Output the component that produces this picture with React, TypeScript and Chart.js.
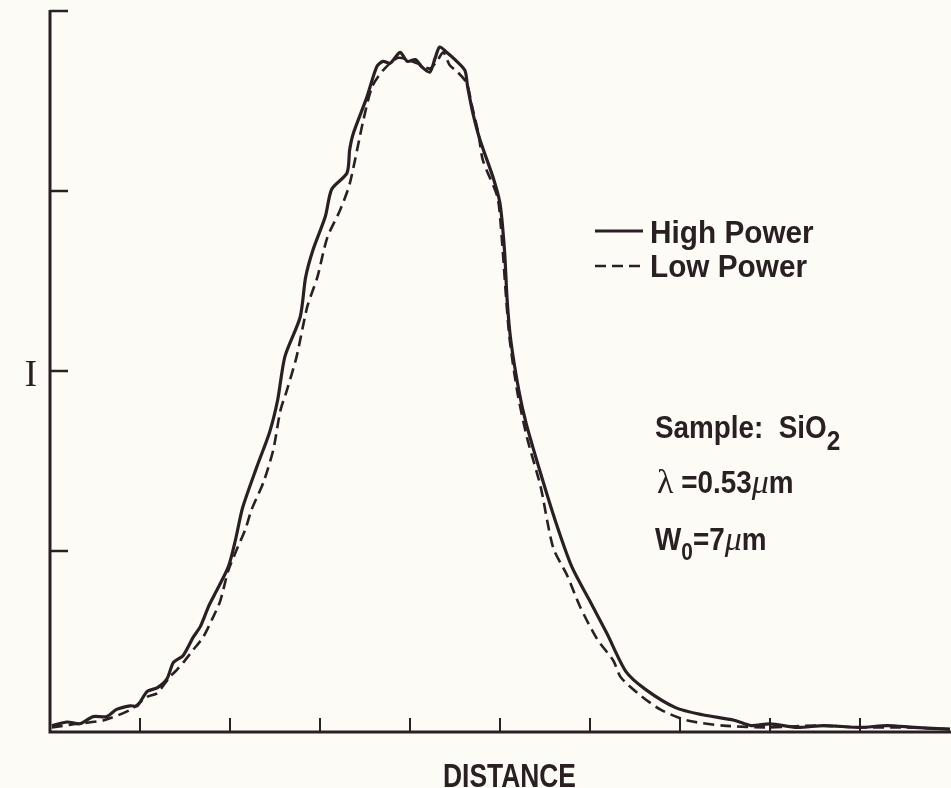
import React, { useEffect, useRef } from "react";
import { Chart, registerables } from "chart.js";

Chart.register(...registerables);

// ---- data ----
const xTicks = [1, 2, 3, 4, 5, 6, 7, 8, 9];
const yTicks = [1, 2, 3, 4];

const highX = [0.02,0.19,0.33,0.48,0.63,0.74,0.89,0.97,1.08,1.19,1.30,1.37,1.48,1.59,1.67,1.76,1.81,1.98,2.06,2.14,2.30,2.44,2.53,2.61,2.78,2.84,2.92,3.06,3.13,3.30,3.33,3.37,3.52,3.63,3.70,3.78,3.89,3.97,4.06,4.13,4.22,4.28,4.33,4.41,4.50,4.61,4.64,4.70,4.78,4.92,5.00,5.05,5.08,5.12,5.21,5.29,5.44,5.62,5.80,5.99,6.19,6.40,6.62,6.95,7.25,7.60,7.79,8.0,8.3,8.6,9.0,9.3,9.6,10.0];
const highY = [0.03,0.05,0.04,0.08,0.08,0.12,0.14,0.14,0.22,0.24,0.29,0.38,0.42,0.52,0.58,0.69,0.74,0.91,1.06,1.24,1.47,1.66,1.84,2.08,2.30,2.52,2.67,2.86,3.01,3.10,3.23,3.32,3.52,3.69,3.72,3.71,3.77,3.72,3.73,3.69,3.66,3.74,3.80,3.77,3.73,3.67,3.58,3.43,3.28,3.08,2.93,2.67,2.39,2.17,1.89,1.71,1.45,1.16,0.91,0.73,0.54,0.33,0.23,0.13,0.09,0.06,0.03,0.04,0.02,0.03,0.02,0.03,0.02,0.01];

const lowX = [0.02,0.3,0.6,0.9,1.08,1.19,1.33,1.41,1.48,1.59,1.70,1.81,1.89,1.98,2.06,2.17,2.24,2.37,2.48,2.56,2.63,2.74,2.86,2.97,3.08,3.22,3.33,3.48,3.58,3.70,3.87,4.08,4.22,4.31,4.37,4.44,4.53,4.63,4.69,4.76,4.81,4.97,5.01,5.10,5.19,5.30,5.45,5.59,5.75,5.89,6.08,6.26,6.34,6.53,6.78,7.07,7.48,8.0,8.5,9.0,9.5,10.0];
const lowY = [0.02,0.04,0.06,0.12,0.19,0.21,0.30,0.34,0.38,0.45,0.52,0.63,0.72,0.89,0.99,1.12,1.23,1.38,1.56,1.78,1.89,2.08,2.36,2.52,2.74,2.89,3.04,3.39,3.58,3.67,3.74,3.71,3.68,3.73,3.77,3.70,3.66,3.60,3.47,3.32,3.17,2.97,2.80,2.21,1.89,1.63,1.36,1.02,0.86,0.69,0.51,0.39,0.30,0.21,0.12,0.06,0.03,0.02,0.03,0.02,0.02,0.01];

const seriesNames = ["High Power", "Low Power"];
const xTitle = "DISTANCE";
const yTitle = "I";

const INK = "#2a2024";
const BG = "#fcfbf6";
const SANS = "'Liberation Sans', Arial, sans-serif";
const SERIF = "'Liberation Serif', 'Times New Roman', serif";

type Run = { text: string; font: string; dy?: number; sx?: number };

function drawRuns(ctx: CanvasRenderingContext2D, x: number, y: number, runs: Run[]) {
  let cx = x;
  for (const r of runs) {
    const sx = r.sx ?? 1;
    ctx.font = r.font;
    ctx.save();
    ctx.translate(cx, y + (r.dy || 0));
    ctx.scale(sx, 1);
    ctx.fillText(r.text, 0, 0);
    ctx.restore();
    cx += ctx.measureText(r.text).width * sx;
  }
}

const decorPlugin = {
  id: "decor",
  beforeDraw(chart: any) {
    const { ctx, width, height } = chart;
    ctx.save();
    ctx.fillStyle = BG;
    ctx.fillRect(0, 0, width, height);
    ctx.restore();
  },
  afterDatasetsDraw(chart: any) {
    const ctx: CanvasRenderingContext2D = chart.ctx;
    const xs = chart.scales.x;
    const ys = chart.scales.y;
    const x0 = xs.getPixelForValue(xs.min);
    const x1 = xs.getPixelForValue(xs.max);
    const y0 = ys.getPixelForValue(ys.min);
    const yTop = ys.getPixelForValue(ys.max);
    ctx.save();
    ctx.strokeStyle = INK;
    ctx.fillStyle = INK;
    ctx.lineCap = "butt";
    // axes
    ctx.lineWidth = 3;
    ctx.beginPath();
    ctx.moveTo(x0, yTop - 1);
    ctx.lineTo(x0, y0 + 1);
    ctx.lineTo(x1 + 1, y0 + 1);
    ctx.stroke();
    // y ticks (inward)
    ctx.lineWidth = 2.5;
    for (const v of yTicks) {
      const py = ys.getPixelForValue(v);
      ctx.beginPath();
      ctx.moveTo(x0, py);
      ctx.lineTo(x0 + 18, py);
      ctx.stroke();
    }
    // x ticks (inward)
    ctx.lineWidth = 2;
    for (const v of xTicks) {
      const px = xs.getPixelForValue(v);
      ctx.beginPath();
      ctx.moveTo(px, y0);
      ctx.lineTo(px, y0 - 13);
      ctx.stroke();
    }

    // axis titles
    ctx.textBaseline = "alphabetic";
    ctx.textAlign = "left";
    drawRuns(ctx, 443, 787, [{ text: xTitle, font: `bold 33px ${SANS}`, sx: 0.8 }]);
    ctx.textAlign = "center";
    ctx.font = `37px ${SERIF}`;
    ctx.fillText(yTitle, 31, 386);
    ctx.textAlign = "left";

    // legend
    ctx.lineWidth = 3;
    ctx.beginPath();
    ctx.moveTo(595, 231);
    ctx.lineTo(643, 231);
    ctx.stroke();
    ctx.lineWidth = 2.5;
    ctx.setLineDash([11, 6]);
    ctx.beginPath();
    ctx.moveTo(595, 266);
    ctx.lineTo(643, 266);
    ctx.stroke();
    ctx.setLineDash([]);
    drawRuns(ctx, 650, 243, [{ text: seriesNames[0], font: `bold 32px ${SANS}`, sx: 0.93 }]);
    drawRuns(ctx, 650, 277, [{ text: seriesNames[1], font: `bold 32px ${SANS}`, sx: 0.93 }]);

    // sample annotation
    const B = `bold 32px ${SANS}`;
    const sx = 0.87;
    drawRuns(ctx, 655, 438, [
      { text: "Sample:  SiO", font: B, sx },
      { text: "2", font: `bold 28px ${SANS}`, sx, dy: 12 },
    ]);
    drawRuns(ctx, 657, 493, [
      { text: "λ", font: `34px ${SERIF}` },
      { text: " =0.53", font: B, sx },
      { text: "μ", font: `italic 34px ${SERIF}` },
      { text: "m", font: B, sx },
    ]);
    drawRuns(ctx, 655, 550, [
      { text: "W", font: B, sx },
      { text: "0", font: `bold 24px ${SANS}`, sx, dy: 10 },
      { text: "=7", font: B, sx },
      { text: "μ", font: `italic 34px ${SERIF}` },
      { text: "m", font: B, sx },
    ]);
    ctx.restore();
  },
};

export default function App() {
  const ref = useRef<HTMLCanvasElement | null>(null);
  useEffect(() => {
    if (!ref.current) return;
    const chart = new Chart(ref.current, {
      type: "line",
      data: {
        datasets: [
          {
            label: seriesNames[0],
            data: highX.map((x, i) => ({ x, y: highY[i] })),
            borderColor: INK,
            borderWidth: 3.2,
            pointRadius: 0,
            tension: 0.25,
            fill: false,
            clip: false as any,
          },
          {
            label: seriesNames[1],
            data: lowX.map((x, i) => ({ x, y: lowY[i] })),
            borderColor: INK,
            borderWidth: 2.6,
            borderDash: [11, 6],
            pointRadius: 0,
            tension: 0.25,
            fill: false,
            clip: false as any,
          },
        ],
      },
      options: {
        responsive: false,
        animation: false,
        devicePixelRatio: 1,
        layout: { padding: { left: 50, right: 1, top: 11, bottom: 57 } },
        plugins: { legend: { display: false }, tooltip: { enabled: false } },
        scales: {
          x: { type: "linear", min: 0, max: 10, display: false },
          y: { type: "linear", min: 0, max: 4, display: false },
        },
      },
      plugins: [decorPlugin],
    });
    return () => chart.destroy();
  }, []);
  return (
    <div style={{ position: "fixed", left: 0, top: 0, width: 951, height: 788, background: BG }}>
      <canvas ref={ref} width={951} height={788} style={{ display: "block", width: 951, height: 788 }} />
    </div>
  );
}
